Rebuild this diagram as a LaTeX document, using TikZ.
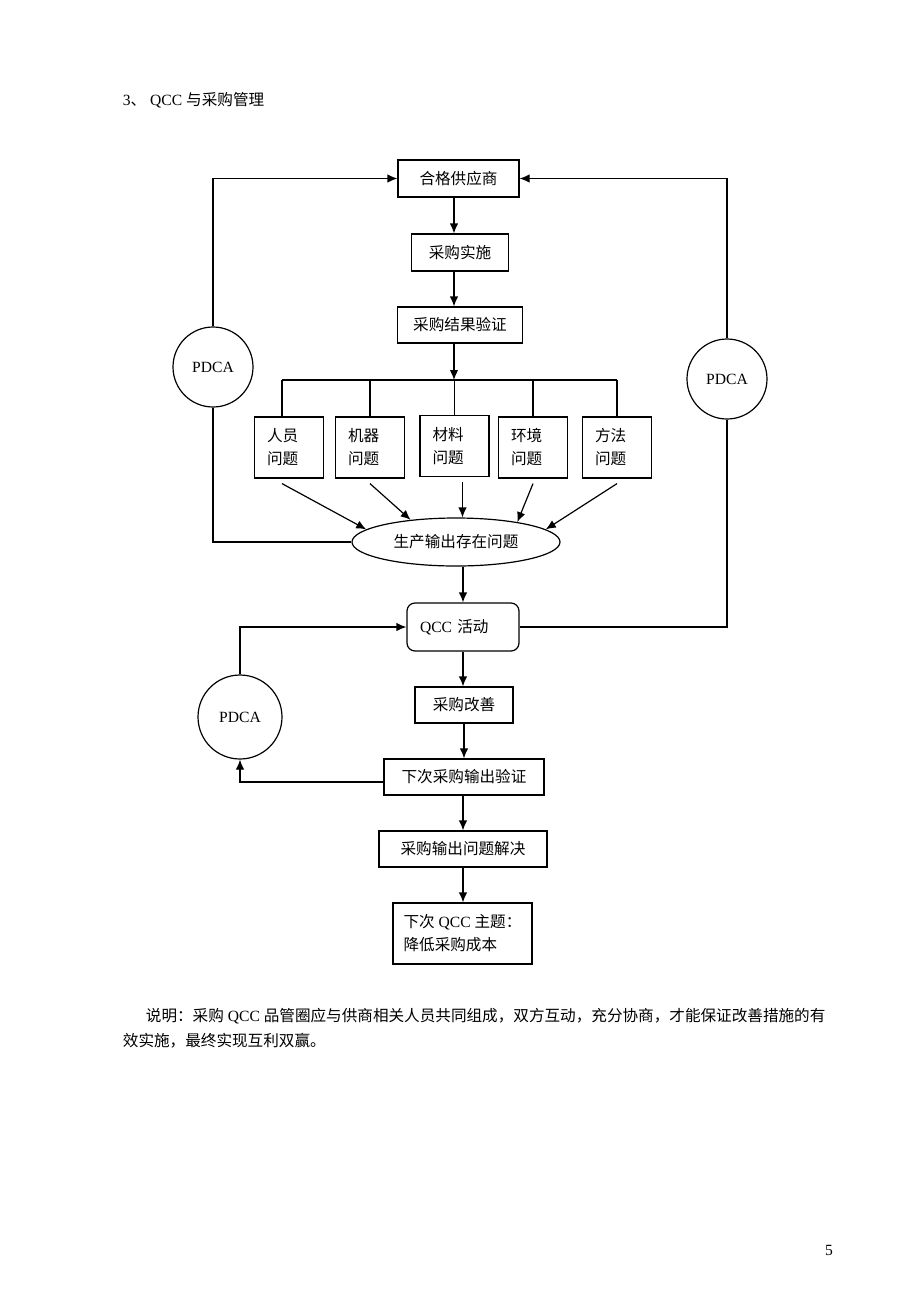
\documentclass[tikz,border=0pt]{standalone}
\usepackage{fontspec}
\setmainfont{Liberation Serif}
\newfontfamily\cjk{Noto Sans CJK SC}
\usetikzlibrary{shapes.geometric,arrows.meta}

\begin{document}
\begin{tikzpicture}[x=1pt, y=-1pt, line width=1.2pt,
  >={Latex[length=10pt,width=8.5pt]},
  every node/.style={font=\fontsize{15.6}{23}\selectfont},
  box/.style 2 args={draw, rectangle, inner sep=0pt, minimum width=#1, minimum height=#2},
  twoline/.style={draw, rectangle, inner sep=0pt, minimum width=69pt, minimum height=61pt, text width=44pt, align=left},
  pdca/.style={draw, circle, inner sep=0pt, minimum size=#1}]
% QCC and purchasing flowchart
\fill[white] (0,0) rectangle (920,1302);
\useasboundingbox (0,0) rectangle (920,1302);

\node[anchor=west] (title) at (119,100) {3{\cjk 、} QCC {\cjk 与采购管理}};

\node[box={121pt}{37pt}] (gys) at (458.5,178.5) {\cjk 合格供应商};
\node[box={97pt}{37pt}] (cgss) at (460,252.5) {\cjk 采购实施};
\node[box={125pt}{36pt}] (jgyz) at (460,325) {\cjk 采购结果验证};
\coordinate (bus) at (454,380);
\node[twoline] (ry) at (289,447.5) {\cjk 人员\\问题};
\node[twoline] (jq) at (370,447.5) {\cjk 机器\\问题};
\node[twoline] (cl) at (454.5,446) {\cjk 材料\\问题};
\node[twoline] (hj) at (533,447.5) {\cjk 环境\\问题};
\node[twoline] (ff) at (617,447.5) {\cjk 方法\\问题};
\node[draw, ellipse, inner sep=0pt, minimum width=208pt, minimum height=48pt] (sc) at (456,542) {\cjk 生产输出存在问题};
\node[box={112pt}{48pt}, rounded corners=8pt, text width=86pt, align=left] (qcc) at (463,627) {QCC {\cjk 活动}};
\node[box={98pt}{36pt}] (gs) at (464,705) {\cjk 采购改善};
\node[box={160pt}{36pt}] (xcyz) at (464,777) {\cjk 下次采购输出验证};
\node[box={168pt}{36pt}] (jj) at (463,849) {\cjk 采购输出问题解决};
\node[box={139pt}{61pt}, align=left] (zt) at (462.5,933.5) {{\cjk 下次} QCC {\cjk 主题：}\\{\cjk 降低采购成本}};

\node[pdca=80pt] (p1) at (213,367) {PDCA};
\node[pdca=80pt] (p2) at (727,379) {PDCA};
\node[pdca=84pt] (p3) at (240,717) {PDCA};

\node[anchor=west] (note1) at (142,1016) {{\cjk 说明：采购} QCC {\cjk 品管圈应与供商相关人员共同组成，双方互动，充分协商，才能保证改善措施的有}};
\node[anchor=west] (note2) at (119,1041) {\cjk 效实施，最终实现互利双赢。};
\node (pg) at (829,1250) {5};

\draw[->] (gys.south -| bus) -- (cgss.north -| bus);
\draw[->] (cgss.south -| bus) -- (jgyz.north -| bus);
\draw[->] (jgyz.south -| bus) -- (bus);
\draw ([xshift=-7pt]ry.north |- bus) -- (ff.north |- bus);
\draw ([xshift=-7pt]ry.north |- bus) -- ([xshift=-7pt]ry.north);
\foreach \n in {jq,cl,hj,ff}
  \draw (\n.north |- bus) -- (\n.north);

\draw[->] ([xshift=-7pt,yshift=-5pt]ry.south) -- (sc.172);
\draw[->] ([yshift=-5pt]jq.south) -- (sc.154);
\draw[->] ([xshift=8pt,yshift=-5pt]cl.south) -- ([xshift=8pt]cl.south |- sc.north);
\draw[->] ([yshift=-5pt]hj.south) -- (sc.18);
\draw[->] ([yshift=-5pt]ff.south) -- (sc.8);

\draw[->] (sc.south -| qcc) -- (qcc.north);
\draw[->] (qcc.south) -- (qcc.south |- gs.north);
\draw[->] (gs.south) -- (gs.south |- xcyz.north);
\draw[->] (xcyz.south -| jj) -- (jj.north);
\draw[->] (jj.south) -- (jj.south |- zt.north);

\draw[->] (p1.north) |- (gys.west);
\draw (p1.south) |- (sc.west);
\draw[->] (p2.north) |- (gys.east);
\draw (p2.south) |- (qcc.east);
\draw[->] (p3.north) |- (qcc.west);
\draw[->] ([yshift=-5pt]xcyz.west) -| (p3.south);
\end{tikzpicture}
\end{document}
